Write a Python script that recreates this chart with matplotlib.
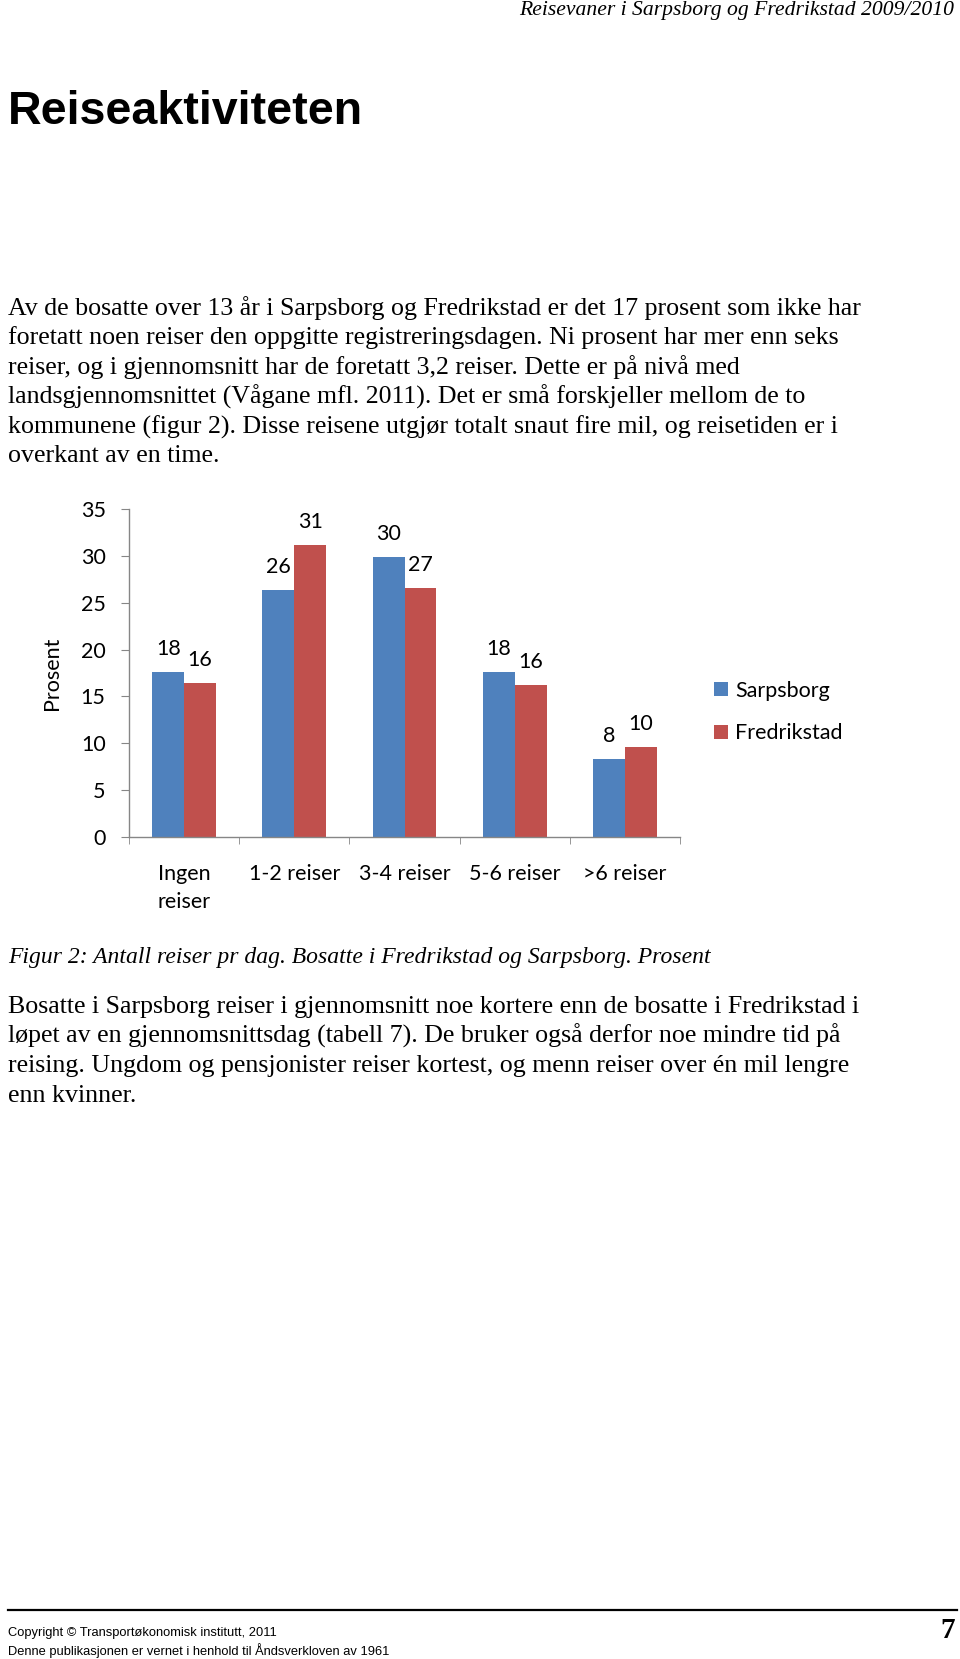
import matplotlib
matplotlib.use("Agg")
import matplotlib.pyplot as plt
import numpy as np

# chart data
categories = ["Ingen\nreiser", "1-2 reiser", "3-4 reiser", "5-6 reiser", ">6 reiser"]
sarpsborg = [17.6, 26.4, 29.9, 17.6, 8.3]
fredrikstad = [16.4, 31.2, 26.6, 16.2, 9.6]
series_names = ["Sarpsborg", "Fredrikstad"]
yticks = [0, 5, 10, 15, 20, 25, 30, 35]

# page text
header = "Reisevaner i Sarpsborg og Fredrikstad 2009/2010"
title = "Reiseaktiviteten"
para1 = [
    "Av de bosatte over 13 år i Sarpsborg og Fredrikstad er det 17 prosent som ikke har",
    "foretatt noen reiser den oppgitte registreringsdagen. Ni prosent har mer enn seks",
    "reiser, og i gjennomsnitt har de foretatt 3,2 reiser. Dette er på nivå med",
    "landsgjennomsnittet (Vågane mfl. 2011). Det er små forskjeller mellom de to",
    "kommunene (figur 2). Disse reisene utgjør totalt snaut fire mil, og reisetiden er i",
    "overkant av en time.",
]
caption = "Figur 2: Antall reiser pr dag. Bosatte i Fredrikstad og Sarpsborg. Prosent"
para2 = [
    "Bosatte i Sarpsborg reiser i gjennomsnitt noe kortere enn de bosatte i Fredrikstad i",
    "løpet av en gjennomsnittsdag (tabell 7). De bruker også derfor noe mindre tid på",
    "reising. Ungdom og pensjonister reiser kortest, og menn reiser over én mil lengre",
    "enn kvinner.",
]
footer1 = "Copyright © Transportøkonomisk institutt, 2011"
footer2 = "Denne publikasjonen er vernet i henhold til Åndsverkloven av 1961"
page_no = "7"

W, H = 960, 1659
fig = plt.figure(figsize=(W / 100, H / 100), dpi=100)
renderer = fig.canvas.get_renderer()


def fy(y):
    return 1 - y / H


def put(x, y, s, size, **kw):
    return fig.text(x / W, fy(y), s, fontsize=size, **kw)


def fit(t, width):
    # scale the font so the text spans the measured width
    w = t.get_window_extent(renderer).width
    t.set_fontsize(t.get_fontsize() * width / w)
    return t.get_fontsize()


serif = "Liberation Serif"
sans = "Liberation Sans"

t = put(954, 11, header, 16, family=serif, style="italic", ha="right", va="center")
fit(t, 434)

t = put(8, 112, title, 34, family=sans, weight="bold", ha="left", va="center")
fit(t, 356)

t = put(8, 308, para1[0], 17, family=serif, ha="left", va="center")
body_size = fit(t, 854)
for i, line in enumerate(para1[1:], start=1):
    put(8, 308 + i * 29.7, line, body_size, family=serif, ha="left", va="center")

t = put(8, 957, caption, body_size, family=serif, style="italic", ha="left", va="center")
fit(t, 704)

for i, line in enumerate(para2):
    put(8, 1006.5 + i * 29.7, line, body_size, family=serif, ha="left", va="center")

# footer
fig.add_artist(plt.Line2D([8 / W, 957 / W], [fy(1610), fy(1610)], color="black", lw=1.6))
t = put(8, 1633, footer1, 9, family=sans, ha="left", va="center")
fsize = fit(t, 269)
put(8, 1651, footer2, fsize, family=sans, ha="left", va="center")
put(955, 1630, page_no, 21, family=serif, weight="bold", ha="right", va="center")

# chart
ax_l, ax_r, ax_t, ax_b = 129, 680, 509.3, 836.7
ax = fig.add_axes([ax_l / W, fy(ax_b), (ax_r - ax_l) / W, (ax_b - ax_t) / H])

x = np.arange(len(categories))
bw = 0.289
blue, red = "#4F81BD", "#C0504D"
b1 = ax.bar(x - bw / 2, sarpsborg, bw, color=blue, label=series_names[0])
b2 = ax.bar(x + bw / 2, fredrikstad, bw, color=red, label=series_names[1])

cfont = "Lato"
csize = 15.5
for bars, vals in [(b1, sarpsborg), (b2, fredrikstad)]:
    for r, v in zip(bars, vals):
        ax.annotate(f"{v:.0f}", (r.get_x() + r.get_width() / 2, v),
                    xytext=(0, 16.5), textcoords="offset points",
                    ha="center", va="center", fontsize=csize, family=cfont)

ax.set_xlim(-0.5, len(categories) - 0.5)
ax.set_ylim(0, 35)
ax.set_yticks(yticks)
ax.set_xticks(x)
ax.set_xticklabels(categories, family=cfont, fontsize=csize, linespacing=1.45)
ax.set_xticks(np.arange(len(categories) + 1) - 0.5, minor=True)
for lab in ax.get_yticklabels():
    lab.set_family(cfont)
    lab.set_fontsize(csize)

axis_gray = "#868686"
for s in ["top", "right"]:
    ax.spines[s].set_visible(False)
for s in ["left", "bottom"]:
    ax.spines[s].set_color(axis_gray)
    ax.spines[s].set_linewidth(1.0)
ax.tick_params(axis="y", direction="out", length=5.8, color=axis_gray, pad=11)
ax.tick_params(axis="x", which="major", length=0, pad=20)
ax.tick_params(axis="x", which="minor", direction="out", length=5, color=axis_gray)

ax.set_ylabel("Prosent", family=cfont, fontsize=csize, va="center")
ax.yaxis.set_label_coords((52 - ax_l) / (ax_r - ax_l), 0.5)

fig.legend(handles=[b1, b2], loc="center left",
           bbox_to_anchor=(714 / W, fy(712)), frameon=False,
           prop={"family": cfont, "size": csize},
           handlelength=0.64, handleheight=0.64, handletextpad=0.35,
           labelspacing=1.05, borderpad=0, borderaxespad=0)

fig.savefig("out.png", dpi=100)
